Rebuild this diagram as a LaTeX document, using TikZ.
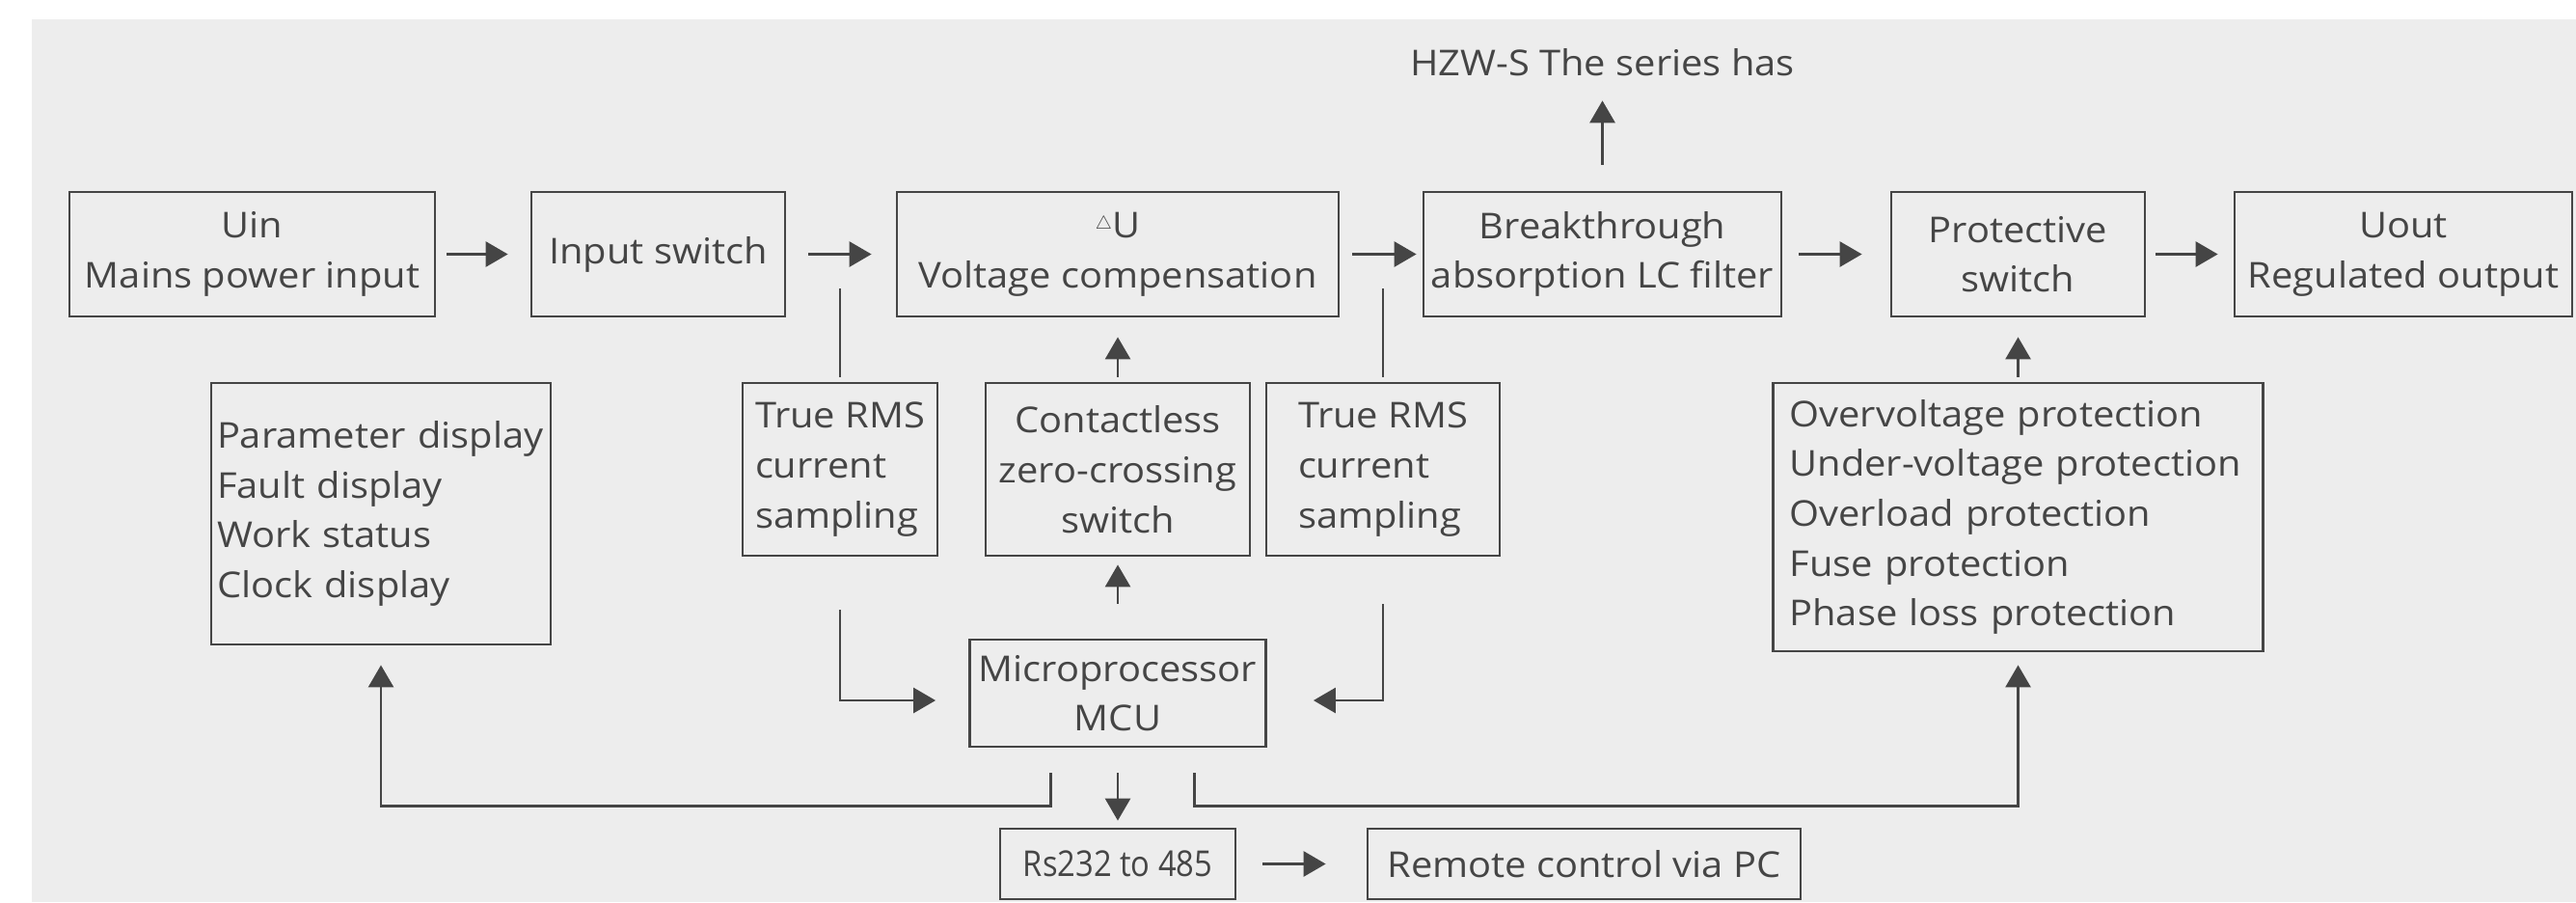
\documentclass[tikz,border=0pt]{standalone}
\usepackage{fontspec}
\setmainfont[FakeStretch=1.08]{Open Sans}
\usetikzlibrary{arrows.meta,positioning}

\definecolor{bggray}{HTML}{EDEDED}
\definecolor{inkgray}{HTML}{454545}

\begin{document}
\begin{tikzpicture}[>={Triangle[length=2.3mm,width=2.6mm]}, line width=0.8pt, color=inkgray,
    every node/.style={font=\fontsize{10.5}{14.7}\selectfont},
    block/.style={draw, rectangle, inner sep=0pt, align=center, minimum height=1.29cm},
    listbox/.style={draw, rectangle, inner ysep=0pt, align=left}]

    % Background
    \useasboundingbox (0,0) rectangle (26.71,-9.35);
    \fill [bggray] (0.33,-0.20) rectangle (26.71,-9.35);

    % Nodes, main power line
    \node [block, minimum width=3.79cm]   (uin)                                  at (2.615,-2.635) {Uin\\Mains power input};
    \node [block, minimum width=2.63cm]   (isw)   [right of=uin, node distance=4.21cm]   {Input switch};
    \node [block, minimum width=4.58cm]   (du)    [right of=isw, node distance=4.765cm]  {\raisebox{0.45ex}{\scalebox{0.5}{$\triangle$}}U\\Voltage compensation};
    \node [block, minimum width=3.71cm]   (lcf)   [right of=du, node distance=5.025cm]   {Breakthrough\\absorption LC filter};
    \node [block, minimum width=2.63cm]   (psw)   [right of=lcf, node distance=4.31cm]   {Protective\\switch};
    \node [block, minimum width=3.50cm]   (uout)  [right of=psw, node distance=3.995cm]  {Uout\\Regulated output};
    \node                                 (hzw)   [above of=lcf, node distance=1.985cm]  {HZW-S The series has};

    % Nodes, sampling and control
    \node [block, minimum width=2.02cm, minimum height=1.79cm, align=left] (rmsl) at (8.71,-4.865) {True RMS\\current\\sampling};
    \node [block, minimum width=2.74cm, minimum height=1.79cm]  (zcs)   [below of=du, node distance=2.23cm]   {Contactless\\zero-crossing\\switch};
    \node [block, minimum width=2.42cm, minimum height=1.79cm, align=left] (rmsr)  [right of=zcs, node distance=2.75cm] {True RMS\\current\\sampling};
    \node [block, minimum width=3.07cm, minimum height=1.11cm]  (mcu)   [below of=zcs, node distance=2.32cm]  {Microprocessor\\MCU};
    \node [block, minimum width=2.44cm, minimum height=0.73cm]  (rs)    [below of=mcu, node distance=1.77cm]  {\scalebox{0.82}[1]{Rs232 to 485}};
    \node [block, minimum width=4.49cm, minimum height=0.73cm]  (pc)    [right of=rs, node distance=4.835cm]  {Remote control via PC};

    % Nodes, lists
    \node [listbox, text width=3.40cm, inner xsep=0.06cm, minimum height=2.71cm] (disp) at (3.95,-5.325)
        {Parameter display\\Fault display\\Work status\\Clock display};
    \node [listbox, text width=4.74cm, inner xsep=0.17cm, minimum height=2.78cm] (prot) [below of=psw, node distance=2.725cm]
        {Overvoltage protection\\Under-voltage protection\\Overload protection\\Fuse protection\\Phase loss protection};

    % Paths
    \path [->]  (uin)  edge [shorten <=0.11cm, shorten >=0.23cm]   (isw);
    \path [->]  (isw)  edge [shorten <=0.23cm, shorten >=0.25cm]   (du);
    \path [->]  (du)   edge [shorten <=0.13cm, shorten >=0.06cm]   (lcf);
    \path [->]  (lcf)  edge [shorten <=0.17cm, shorten >=0.29cm]   (psw);
    \path [->]  (psw)  edge [shorten <=0.10cm, shorten >=0.16cm]   (uout);
    \path [->]  (lcf)  edge [shorten <=0.27cm, shorten >=0.12cm]   (hzw);
    \path [->]  (zcs)  edge [shorten <=0.05cm, shorten >=0.20cm]   (du);
    \path [->]  (prot) edge [shorten <=0.05cm, shorten >=0.20cm]   (psw);
    \path [->]  (mcu)  edge [shorten <=0.36cm, shorten >=0.08cm]   (zcs);
    \path [->]  (mcu)  edge [shorten <=0.26cm, shorten >=0.07cm]   (rs);
    \path [->]  (rs)   edge [shorten <=0.27cm, shorten >=0.42cm]   (pc);

    % Sampling lines
    \draw (rmsl.north) ++(0,0.05) -- ++(0,0.92);
    \draw (rmsr.north) ++(0,0.05) -- ++(0,0.92);
    \draw [->, shorten >=0.34cm] (rmsl.south) ++(0,-0.55) |- ([yshift=-0.075cm]mcu.west);
    \draw [->, shorten >=0.48cm] (rmsr.south) ++(0,-0.49) |- ([yshift=-0.075cm]mcu.east);

    % MCU outputs
    \draw [->, shorten >=0.20cm] ([xshift=-0.695cm]mcu.south) ++(0,-0.26) -- ++(0,-0.34) -| (disp.south);
    \draw [->, shorten >=0.13cm] ([xshift=0.795cm]mcu.south) ++(0,-0.26) -- ++(0,-0.34) -| (prot.south);

\end{tikzpicture}
\end{document}
